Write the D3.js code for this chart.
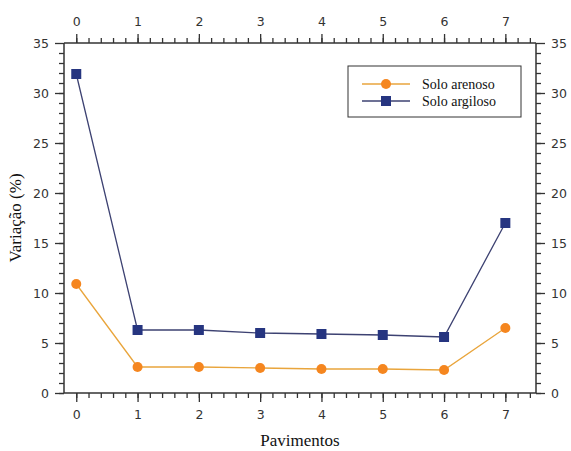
<!DOCTYPE html>
<html><head><meta charset="utf-8">
<script src="https://cdn.jsdelivr.net/npm/d3@7"></script>
<style>body{margin:0;background:#fff}</style></head>
<body><svg id="c" width="571" height="451"></svg>
<script>
const pavimentos = [0,1,2,3,4,5,6,7];
const soloArenoso = [10.9, 2.6, 2.6, 2.5, 2.4, 2.4, 2.3, 6.5];
const soloArgiloso = [31.9, 6.3, 6.3, 6.0, 5.9, 5.8, 5.6, 17.0];
const yTicks = [0,5,10,15,20,25,30,35];
const seriesNames = ["Solo arenoso","Solo argiloso"];

const svg = d3.select("#c");
const L=64, R=536, T=43, B=393;
const x = d3.scaleLinear().domain([-0.2,7.5]).range([L,R]);
const y = d3.scaleLinear().domain([0,35]).range([B,T]);
const axisCol="#333";
const tickFont="'DejaVu Sans', Verdana, sans-serif";
const serif="'Liberation Serif', 'Times New Roman', serif";

const g = svg.append("g");
[[L,R,B,B],[L,R,T,T],[L,L,T,B],[R,R,T,B]].forEach(c=>{
  g.append("line").attr("x1",c[0]).attr("x2",c[1]).attr("y1",c[2]).attr("y2",c[3]).attr("stroke",axisCol).attr("stroke-width",1.5);
});

const xMinor = d3.range(0,7.5,0.2).map(v=>+v.toFixed(1));
const yMinor = d3.range(0,35,1);

function styleAxis(sel){
  sel.select(".domain").remove();
  sel.selectAll("line").attr("stroke",axisCol).attr("stroke-width",1.3);
  sel.selectAll("text").attr("fill","#333").style("font-family",tickFont).style("font-size","12.5px");
}
svg.append("g").attr("transform",`translate(0,${B})`).call(d3.axisBottom(x).tickValues(xMinor).tickSize(5).tickFormat("")).call(styleAxis);
svg.append("g").attr("transform",`translate(0,${T})`).call(d3.axisTop(x).tickValues(xMinor).tickSize(5).tickFormat("")).call(styleAxis);
svg.append("g").attr("transform",`translate(${L},0)`).call(d3.axisLeft(y).tickValues(yMinor).tickSize(5).tickFormat("")).call(styleAxis);
svg.append("g").attr("transform",`translate(${R},0)`).call(d3.axisRight(y).tickValues(yMinor).tickSize(5).tickFormat("")).call(styleAxis);
svg.append("g").attr("transform",`translate(0,${B})`).call(d3.axisBottom(x).tickValues(pavimentos).tickSize(9).tickPadding(8).tickFormat(d3.format("d"))).call(styleAxis);
svg.append("g").attr("transform",`translate(0,${T})`).call(d3.axisTop(x).tickValues(pavimentos).tickSize(9).tickPadding(8).tickFormat(d3.format("d"))).call(styleAxis);
svg.append("g").attr("transform",`translate(${L},0)`).call(d3.axisLeft(y).tickValues(yTicks).tickSize(9).tickPadding(6).tickFormat(d3.format("d"))).call(styleAxis);
svg.append("g").attr("transform",`translate(${R},0)`).call(d3.axisRight(y).tickValues(yTicks).tickSize(9).tickPadding(6).tickFormat(d3.format("d"))).call(styleAxis);

const line = d3.line().x((d,i)=>x(pavimentos[i])).y(d=>y(d));
svg.append("path").datum(soloArgiloso).attr("d",line).attr("fill","none").attr("stroke","#3d4272").attr("stroke-width",1.3);
svg.append("path").datum(soloArenoso).attr("d",line).attr("fill","none").attr("stroke","#e9a53c").attr("stroke-width",1.3);
svg.selectAll(".sq").data(soloArgiloso).enter().append("rect")
  .attr("x",(d,i)=>x(pavimentos[i])-5).attr("y",d=>y(d)-5).attr("width",10).attr("height",10).attr("fill","#263580");
svg.selectAll(".ci").data(soloArenoso).enter().append("circle")
  .attr("cx",(d,i)=>x(pavimentos[i])).attr("cy",d=>y(d)).attr("r",5).attr("fill","#f5861f");

const lg = svg.append("g");
lg.append("rect").attr("x",348).attr("y",66).attr("width",173).attr("height",51).attr("fill","#fff").attr("stroke","#333").attr("stroke-width",1);
const ly=[84,101];
lg.append("line").attr("x1",362).attr("x2",410).attr("y1",ly[0]).attr("y2",ly[0]).attr("stroke","#e9a53c").attr("stroke-width",1.3);
lg.append("circle").attr("cx",386).attr("cy",ly[0]).attr("r",5).attr("fill","#f5861f");
lg.append("line").attr("x1",362).attr("x2",410).attr("y1",ly[1]).attr("y2",ly[1]).attr("stroke","#3d4272").attr("stroke-width",1.3);
lg.append("rect").attr("x",381).attr("y",ly[1]-5).attr("width",10).attr("height",10).attr("fill","#263580");
seriesNames.forEach((n,i)=>{
  lg.append("text").attr("x",422).attr("y",ly[i]+4.5).text(n)
    .style("font-family",serif).style("font-size","14px").attr("fill","#111");
});

svg.append("text").attr("x",(L+R)/2).attr("y",446).attr("text-anchor","middle").text("Pavimentos")
  .style("font-family",serif).style("font-size","17px").attr("fill","#111");
svg.append("text").attr("transform",`translate(21,${(T+B)/2}) rotate(-90)`).attr("text-anchor","middle").text("Variação (%)")
  .style("font-family",serif).style("font-size","17px").attr("fill","#111");
</script></body></html>
